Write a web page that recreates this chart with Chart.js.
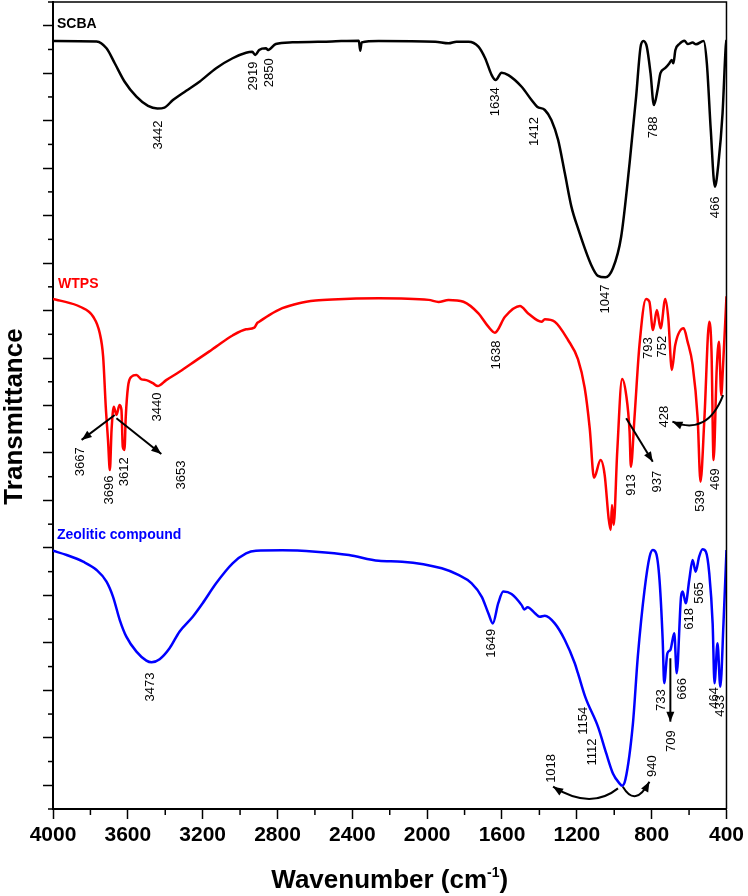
<!DOCTYPE html>
<html>
<head>
<meta charset="utf-8">
<script src="https://cdn.jsdelivr.net/npm/chart.js@4.4.1/dist/chart.umd.min.js"></script>
<style>
body{margin:0;background:#fff}
canvas{display:block}
</style>
</head>
<body>
<canvas id="ftir" width="748" height="896"></canvas>
<script>
// wavenumber (cm-1) and transmittance (offset, arbitrary units)
const scbaWn = [4000,3767,3714,3670,3617,3554,3492,3442,3404,3359,
  3288,3217,3128,3040,2968,2935,2919,2898,2862,2850,
  2809,2720,2509,2365,2358,2350,2259,1957,1886,1843,
  1779,1726,1690,1655,1634,1602,1566,1495,1442,1412,
  1371,1336,1300,1264,1229,1194,1123,1087,1047,1007,
  963,918,883,859,844,826,806,788,767,753,
  728,705,693,684,673,652,625,607,581,563,
  522,505,484,462,443,421,404,400]
const scbaT = [32.36,32.34,32.05,31.42,30.64,30.01,29.62,29.51,29.55,29.87,
  30.26,30.64,31.21,31.63,31.86,31.90,31.77,31.98,32.05,31.98,
  32.23,32.30,32.34,32.37,31.95,32.30,32.36,32.33,32.26,32.33,
  32.33,32.12,31.63,30.92,30.71,31.02,30.92,30.43,29.87,29.59,
  29.45,29.03,28.19,26.78,25.38,24.47,22.92,22.46,22.40,22.78,
  24.11,27.20,30.01,32.12,32.36,32.12,31.00,29.66,30.36,31.00,
  31.21,31.42,31.56,31.42,31.98,32.23,32.37,32.23,32.29,32.22,
  32.36,31.42,28.61,26.22,27.20,29.31,32.12,32.40]

const wtpsWn = [4000,3962,3855,3785,3750,3732,3718,3706,3696,3687,
  3675,3661,3644,3634,3627,3618,3611,3599,3581,3554,
  3527,3501,3466,3440,3395,3324,3235,3164,3128,3040,
  2968,2924,2908,2898,2844,2774,2685,2596,2507,2259,
  1992,1939,1886,1806,1726,1673,1638,1584,1504,1460,
  1389,1371,1318,1247,1194,1158,1131,1108,1073,1051,
  1030,1019,1012,1003,984,958,936,918,911,892,
  865,830,812,793,772,752,727,711,692,674,
  629,608,581,554,539,518,492,480,469,452,
  440,428,419,400]
const wtpsT = [21.49,21.42,21.16,20.74,20.04,19.06,16.95,15.55,14.28,15.97,
  16.95,16.60,17.02,16.81,15.26,15.13,16.53,17.79,18.21,18.29,
  18.10,18.07,17.94,17.82,18.07,18.42,18.90,19.28,19.48,19.95,
  20.21,20.28,20.48,20.53,20.81,21.10,21.31,21.42,21.47,21.52,
  21.45,21.36,21.45,21.37,20.88,20.32,20.07,20.74,21.19,20.88,
  20.53,20.63,20.53,19.76,18.95,17.75,16.04,13.96,14.70,14.07,
  12.25,11.75,12.81,11.97,15.05,18.12,17.44,15.90,14.42,16.46,
  19.55,21.49,21.37,20.18,21.02,20.25,21.49,20.67,18.50,19.55,
  20.25,19.69,18.71,16.46,13.79,16.46,20.53,19.27,14.70,18.57,
  19.69,17.44,18.57,21.60]

const zeoWn = [4000,3927,3839,3767,3714,3679,3643,3608,3554,3501,
  3473,3430,3377,3324,3253,3200,3128,3040,2968,2915,
  2774,2596,2418,2259,2134,1922,1833,1762,1708,1673,
  1649,1620,1593,1549,1495,1481,1463,1424,1398,1371,
  1318,1264,1211,1194,1154,1087,1043,1007,972,958,
  940,900,874,838,811,794,776,758,741,733,
  716,700,679,666,643,634,618,599,581,565,
  546,528,510,492,474,464,448,433,416,400]
const zeoT = [10.88,10.70,10.42,10.07,9.58,8.94,7.96,7.26,6.63,6.25,
  6.18,6.31,6.77,7.47,8.10,8.67,9.51,10.35,10.77,10.88,
  10.90,10.84,10.70,10.46,10.42,10.14,9.86,9.51,8.94,8.25,
  7.82,8.67,9.16,9.06,8.59,8.41,8.50,8.25,8.10,8.14,
  7.82,7.12,6.14,5.72,4.70,3.47,2.35,1.50,1.08,0.98,
  1.25,3.61,6.42,9.23,10.63,10.91,10.77,9.65,7.12,5.30,
  6.56,6.70,7.40,5.72,8.94,9.16,8.67,9.65,10.49,10.00,
  10.63,10.94,10.84,9.93,7.82,5.30,6.98,5.15,7.82,10.91]

const xMajor = [4000,3600,3200,2800,2400,2000,1600,1200,800,400]
const xMinor = [3800,3400,3000,2600,2200,1800,1400,1000,600]
const yMajor = [1,3,5,7,9,11,13,15,17,19,21,23,25,27,29,31,33]
const yMinor = [0,2,4,6,8,10,12,14,16,18,20,22,24,26,28,30,32,34]

// peak labels: text, wavenumber, height
const scbaPeaks = [['3442',3435,28.40],['2919',2928,30.88],['2850',2841,31.02],['1634',1634,29.80],
  ['1412',1424,28.54],['1047',1048,21.49],['788',789,28.72],['466',457,25.35]]
const wtpsPeaks = [['3667',3856,14.63],['3696',3700,13.44],['3612',3620,14.21],['3653',3315,14.07],
  ['3440',3442,16.94],['1638',1629,19.13],['913',906,13.65],['937',767,13.79],['793',815,19.42],
  ['752',740,19.48],['428',732,16.53],['539',537,12.98],['469',457,13.90]]
const zeoPeaks = [['3473',3478,5.14],['1649',1658,6.98],['1154',1167,3.72],['1112',1114,2.40],
  ['1018',1336,1.71],['940',798,1.81],['733',750,4.59],['709',693,2.86],['666',634,5.06],
  ['618',599,8.01],['565',545,9.10],['464',462,4.68],['433',434,4.34]]

const seriesNames = ['SCBA', 'WTPS', 'Zeolitic compound']
const seriesColors = ['#000000', '#ff0000', '#0000ff']
const nameAnchors = [[3979,33.07],[3973,22.12],[3979,11.54]]

// arrows: straight [x1,y1,x2,y2], curved [x1,y1,cx,cy,x2,y2]
const lineArrows = [[3670,16.60,3847,15.55],[3661,16.46,3421,14.96],[936,16.46,794,14.63],[700,6.35,700,3.68]]
const curveArrows = [[418,17.44,503,15.71,689,16.32],[980,0.87,1127,-0.06,1327,0.94],[954,0.94,887,0.05,812,1.15]]

const FONT = 'Arial, "Liberation Sans", Helvetica, sans-serif'

function pts(wn, t) {
    return wn.map((w, i) => ({x: w, y: t[i]}))
}

function head(ctx, x, y, fx, fy) {
    const a = Math.atan2(y - fy, x - fx)
    ctx.save()
    ctx.translate(x, y)
    ctx.rotate(a)
    ctx.beginPath()
    ctx.moveTo(0, 0)
    ctx.lineTo(-10, 4)
    ctx.lineTo(-10, -4)
    ctx.closePath()
    ctx.fill()
    ctx.restore()
}

const extras = {
    id: 'extras',
    afterDraw(chart) {
        const {ctx, chartArea: ca, scales: {x, y}} = chart
        ctx.save()
        ctx.strokeStyle = '#000'
        ctx.fillStyle = '#000'

        // top and right frame
        ctx.lineWidth = 1.5
        ctx.beginPath()
        ctx.moveTo(ca.left, ca.top)
        ctx.lineTo(ca.right, ca.top)
        ctx.lineTo(ca.right, ca.bottom)
        ctx.stroke()

        // minor ticks
        xMinor.forEach(v => {
            const px = x.getPixelForValue(v)
            ctx.beginPath(); ctx.moveTo(px, ca.bottom); ctx.lineTo(px, ca.bottom + 6); ctx.stroke()
        })
        yMinor.forEach(v => {
            const py = y.getPixelForValue(v)
            ctx.beginPath(); ctx.moveTo(ca.left - 5, py); ctx.lineTo(ca.left, py); ctx.stroke()
        })

        // arrows
        ctx.lineWidth = 2
        lineArrows.forEach(a => {
            const x1 = x.getPixelForValue(a[0]), y1 = y.getPixelForValue(a[1])
            const x2 = x.getPixelForValue(a[2]), y2 = y.getPixelForValue(a[3])
            ctx.beginPath(); ctx.moveTo(x1, y1); ctx.lineTo(x2, y2); ctx.stroke()
            head(ctx, x2, y2, x1, y1)
        })
        curveArrows.forEach(a => {
            const x1 = x.getPixelForValue(a[0]), y1 = y.getPixelForValue(a[1])
            const cx = x.getPixelForValue(a[2]), cy = y.getPixelForValue(a[3])
            const x2 = x.getPixelForValue(a[4]), y2 = y.getPixelForValue(a[5])
            ctx.beginPath(); ctx.moveTo(x1, y1); ctx.quadraticCurveTo(cx, cy, x2, y2); ctx.stroke()
            head(ctx, x2, y2, cx, cy)
        })

        // peak labels
        ctx.font = '13px ' + FONT
        ctx.textAlign = 'center'
        ctx.textBaseline = 'middle'
        scbaPeaks.concat(wtpsPeaks, zeoPeaks).forEach(([t, wn, v]) => {
            ctx.save()
            ctx.translate(x.getPixelForValue(wn), y.getPixelForValue(v))
            ctx.rotate(-Math.PI / 2)
            ctx.fillText(t, 0, 0)
            ctx.restore()
        })

        // series names
        ctx.font = 'bold 14px ' + FONT
        ctx.textAlign = 'left'
        seriesNames.forEach((n, i) => {
            ctx.fillStyle = seriesColors[i]
            ctx.fillText(n, x.getPixelForValue(nameAnchors[i][0]), y.getPixelForValue(nameAnchors[i][1]))
        })

        // axis titles
        ctx.fillStyle = '#000'
        ctx.textBaseline = 'alphabetic'
        const t1 = 'Wavenumber (cm', sup = '-1', t2 = ')'
        ctx.font = 'bold 26px ' + FONT
        const w1 = ctx.measureText(t1).width, w3 = ctx.measureText(t2).width
        ctx.font = 'bold 14px ' + FONT
        const w2 = ctx.measureText(sup).width
        let tx = (ca.left + ca.right) / 2 - (w1 + w2 + w3) / 2
        const base = ca.bottom + 79
        ctx.font = 'bold 26px ' + FONT
        ctx.fillText(t1, tx, base)
        ctx.font = 'bold 14px ' + FONT
        ctx.fillText(sup, tx + w1, base - 11)
        ctx.font = 'bold 26px ' + FONT
        ctx.fillText(t2, tx + w1 + w2, base)

        ctx.save()
        ctx.translate(ca.left - 31, (ca.top + ca.bottom) / 2 + 11)
        ctx.rotate(-Math.PI / 2)
        ctx.textAlign = 'center'
        ctx.fillText('Transmittance', 0, 0)
        ctx.restore()

        ctx.restore()
    }
}

const series = [pts(scbaWn, scbaT), pts(wtpsWn, wtpsT), pts(zeoWn, zeoT)]

var chart = new Chart(document.getElementById('ftir'), {
    type: 'line',
    data: {
        datasets: series.map((d, i) => ({
            label: seriesNames[i],
            data: d,
            borderColor: seriesColors[i],
            borderWidth: 2.5,
            pointRadius: 0,
            fill: false,
            cubicInterpolationMode: 'monotone'
        }))
    },
    options: {
        responsive: false,
        animation: false,
        devicePixelRatio: 1,
        layout: {padding: {top: 2, right: 19, left: 0, bottom: 0}},
        plugins: {legend: {display: false}, tooltip: {enabled: false}},
        scales: {
            x: {
                type: 'linear',
                reverse: true,
                min: 400,
                max: 4000,
                afterBuildTicks: s => { s.ticks = xMajor.map(v => ({value: v})) },
                afterFit: s => { s.height = 87 },
                grid: {drawOnChartArea: false, tickLength: 10, tickWidth: 1.5, tickColor: '#000'},
                border: {display: true, color: '#000', width: 2},
                ticks: {
                    autoSkip: false,
                    maxRotation: 0,
                    padding: 4,
                    color: '#000',
                    font: {family: FONT, size: 21, weight: 'bold'},
                    callback: v => String(v)
                }
            },
            y: {
                min: 0,
                max: 34,
                afterBuildTicks: s => { s.ticks = yMajor.map(v => ({value: v})) },
                afterFit: s => { s.width = 53 },
                grid: {drawOnChartArea: false, tickLength: 10, tickWidth: 1.5, tickColor: '#000'},
                border: {display: true, color: '#000', width: 2},
                ticks: {display: false}
            }
        }
    },
    plugins: [extras]
})
</script>
</body>
</html>
